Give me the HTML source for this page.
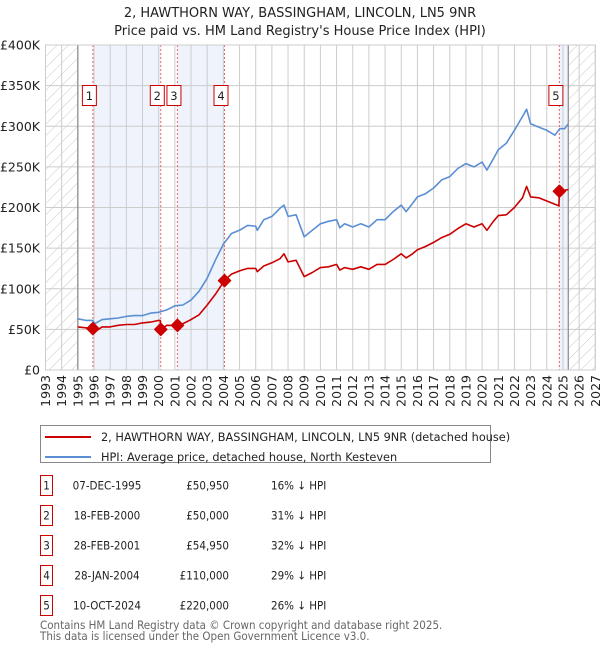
<!DOCTYPE html>
<html><head><meta charset="utf-8">
<style>
body{margin:0;background:#fff;}
svg{display:block;font-family:"DejaVu Sans","Liberation Sans",sans-serif;}
.cond{font-family:"DejaVu Sans Condensed","Liberation Sans",sans-serif;}
</style></head>
<body>
<svg id="chart" width="600" height="650" viewBox="0 0 600 650">
<defs>
<pattern id="hatch" width="8" height="8" patternUnits="userSpaceOnUse" patternTransform="rotate(45)">
<line x1="0" y1="0" x2="0" y2="8" stroke="#c8c8c8" stroke-width="1"/>
</pattern>
</defs>
<text x="300" y="17" text-anchor="middle" font-size="13" fill="#222">2, HAWTHORN WAY, BASSINGHAM, LINCOLN, LN5 9NR</text>
<text x="300" y="35" text-anchor="middle" font-size="13" fill="#222">Price paid vs. HM Land Registry's House Price Index (HPI)</text>
<g id="plot"></g>
<g id="legend">
<rect x="40.5" y="425.5" width="450" height="37" fill="#fff" stroke="#888"/>
<line x1="45" y1="437" x2="91" y2="437" stroke="#cc0000" stroke-width="2"/>
<text x="101" y="441" font-size="11.3" fill="#222">2, HAWTHORN WAY, BASSINGHAM, LINCOLN, LN5 9NR (detached house)</text>
<line x1="45" y1="457" x2="91" y2="457" stroke="#5b8fd4" stroke-width="2"/>
<text x="101" y="461" font-size="11.3" fill="#222">HPI: Average price, detached house, North Kesteven</text>
</g>
<g id="table" class="cond" font-size="11.5" fill="#222"></g>
<text class="cond" x="40" y="629" font-size="11.5" fill="#666">Contains HM Land Registry data © Crown copyright and database right 2025.</text>
<text class="cond" x="40" y="640" font-size="11.5" fill="#666">This data is licensed under the Open Government Licence v3.0.</text>
</svg>
<script>
const hpiYears=[1995,1995.5,1995.9,1996.05,1996.5,1997,1997.5,1998,1998.5,1999,1999.5,2000,2000.5,2001,2001.5,2002,2002.5,2003,2003.5,2004,2004.5,2005,2005.5,2006,2006.1,2006.5,2007,2007.5,2007.75,2008,2008.5,2009,2009.5,2010,2010.5,2011,2011.2,2011.5,2012,2012.5,2013,2013.5,2014,2014.5,2015,2015.3,2015.7,2016,2016.5,2017,2017.5,2018,2018.5,2019,2019.5,2020,2020.3,2020.7,2021,2021.5,2022,2022.5,2022.75,2023,2023.5,2024,2024.5,2024.8,2025.1,2025.33];
const hpiValues=[63,61,61,57,62,63,64,66,67,67,70,71,74,79,80,86,97,113,135,155,168,172,178,177,172,185,189,199,203,189,191,164,172,180,183,185,175,180,176,180,176,185,185,195,203,195,205,213,217,224,234,238,248,254,250,256,246,260,271,279,295,312,321,303,299,295,289,297,297,303];
const ppYears=[1995,1995.5,1995.93,1996.2,1996.5,1997,1997.5,1998,1998.5,1999,1999.5,2000.0,2000.1,2000.13,2000.5,2001.16,2001.5,2002,2002.5,2003,2003.5,2004.07,2004.5,2005,2005.5,2006,2006.1,2006.5,2007,2007.5,2007.75,2008,2008.5,2009,2009.5,2010,2010.5,2011,2011.2,2011.5,2012,2012.5,2013,2013.5,2014,2014.5,2015,2015.3,2015.7,2016,2016.5,2017,2017.5,2018,2018.5,2019,2019.5,2020,2020.3,2020.7,2021,2021.5,2022,2022.5,2022.75,2023,2023.5,2024,2024.5,2024.75,2024.78,2025.33];
const ppValues=[53,52,50.95,49,53,53,55,56,56,58,59,61,61,50,55,54.95,57,62,68,80,93,110,118,122,125,125,121,128,132,137,143,133,135,115,120,126,127,130,123,126,124,127,124,130,130,136,143,138,143,148,152,157,163,167,174,180,176,180,172,183,190,191,200,212,226,213,212,208,204,202,220,222];
const saleYears=[1995.93,2000.13,2001.16,2004.07,2024.78];
const saleValues=[50.95,50,54.95,110,220];
const saleLabels=["1","2","3","4","5"];
const saleDates=["07-DEC-1995","18-FEB-2000","28-FEB-2001","28-JAN-2004","10-OCT-2024"];
const salePrices=["£50,950","£50,000","£54,950","£110,000","£220,000"];
const saleHpi=["16% ↓ HPI","31% ↓ HPI","32% ↓ HPI","29% ↓ HPI","26% ↓ HPI"];
const yTicks=[0,50,100,150,200,250,300,350,400];
const yTickLabels=["£0","£50K","£100K","£150K","£200K","£250K","£300K","£350K","£400K"];
const xTicks=[1993,1994,1995,1996,1997,1998,1999,2000,2001,2002,2003,2004,2005,2006,2007,2008,2009,2010,2011,2012,2013,2014,2015,2016,2017,2018,2019,2020,2021,2022,2023,2024,2025,2026,2027];
const dataStart=1995, dataEnd=2025.33;

const NS="http://www.w3.org/2000/svg";
const X0=45.5, PX=16.17, Y0=370, YT=45;
const xs=y=>X0+(y-1993)*PX;
const ys=v=>Y0-(v/400)*(Y0-YT);
const plot=document.getElementById('plot');
function mk(tag,attrs,parent){const e=document.createElementNS(NS,tag);for(const k in attrs)e.setAttribute(k,attrs[k]);(parent||plot).appendChild(e);return e;}

let h1=mk('rect',{x:xs(1993),y:YT,width:xs(dataStart)-xs(1993),height:Y0-YT,fill:'url(#hatch)'});


let h2=mk('rect',{x:xs(dataEnd),y:YT,width:xs(2027)-xs(dataEnd),height:Y0-YT,fill:'url(#hatch)'});


const shadePairs=[[0,1],[2,3]];
shadePairs.forEach(p=>{
 const r=mk('rect',{x:xs(saleYears[p[0]]),y:YT,width:xs(saleYears[p[1]])-xs(saleYears[p[0]]),height:Y0-YT,fill:'#eef3fc'});
 
 
});
const r5=mk('rect',{x:xs(saleYears[4]),y:YT,width:xs(dataEnd)-xs(saleYears[4]),height:Y0-YT,fill:'#eef3fc'});


yTicks.forEach((t,i)=>{
 const g=mk('line',{x1:X0,x2:xs(2027),y1:ys(t),y2:ys(t),stroke:'#cccccc','stroke-width':1});
 
 
 const tx=mk('text',{x:40,y:ys(t)+4.5,'text-anchor':'end','font-size':12.5,fill:'#222'});
 tx.textContent=yTickLabels[i];
 
 
});
xTicks.forEach(t=>{
 const g=mk('line',{x1:xs(t),x2:xs(t),y1:YT,y2:Y0,stroke:'#cccccc','stroke-width':1});
 
 
 const tx=mk('text',{x:0,y:0,'text-anchor':'end','font-size':12.5,fill:'#222',transform:`translate(${xs(t)+4.5},375) rotate(-90)`});
 tx.textContent=t;
 
 
});
[dataStart,dataEnd].forEach(t=>{
 const l=mk('line',{x1:xs(t),x2:xs(t),y1:YT,y2:Y0,stroke:'#888','stroke-width':1.2});
 
 
});
saleYears.forEach(s=>{
 const l=mk('line',{x1:xs(s),x2:xs(s),y1:YT,y2:Y0,stroke:'#ee6666','stroke-width':1,'stroke-dasharray':'2,2'});
 
 
});
function pts(a,b){return a.map((y,i)=>xs(y).toFixed(1)+','+ys(b[i]).toFixed(1)).join(' ');}
const hl=mk('polyline',{points:pts(hpiYears,hpiValues),fill:'none',stroke:'#5b8fd4','stroke-width':1.6,'stroke-linejoin':'round'});


const pl=mk('polyline',{points:pts(ppYears,ppValues),fill:'none',stroke:'#cc0000','stroke-width':1.6,'stroke-linejoin':'round'});


saleYears.forEach((s,i)=>{
 const cx=xs(s),cy=ys(saleValues[i]);
 const d=mk('polygon',{points:`${cx},${cy-6} ${cx+6},${cy} ${cx},${cy+6} ${cx-6},${cy}`,fill:'#cc0000',stroke:'#cc0000','stroke-width':1.5,'stroke-linejoin':'round'});
 
 
 const b=mk('rect',{x:cx-10.5,y:85.5,width:14,height:20,fill:'#fff',stroke:'#cc0000','stroke-width':1});
 
 
 const t=mk('text',{x:cx-3.5,y:100,'text-anchor':'middle','font-size':11.5,fill:'#222'});
 t.textContent=saleLabels[i];
 
 
});
const bd=mk('rect',{x:X0,y:YT,width:xs(2027)-X0,height:Y0-YT,fill:'none',stroke:'#cccccc'});


const tb=document.getElementById('table');
saleLabels.forEach((lab,i)=>{
 const y0=475.5+i*30;
 const b=mk('rect',{x:40.5,y:y0,width:12,height:20,fill:'#fff',stroke:'#cc0000'},tb);
 
 
 const cells=[[46.5,'middle',lab,'table-row-number'],[107,'middle',saleDates[i],'table-row-date'],[229,'end',salePrices[i],'table-row-price'],[271,'start',saleHpi[i],'table-row-hpi']];
 cells.forEach(c=>{
  const t=mk('text',{x:c[0],y:y0+14,'text-anchor':c[1]},tb);
  t.textContent=c[2];
  
  
 });
});
</script>
</body></html>
